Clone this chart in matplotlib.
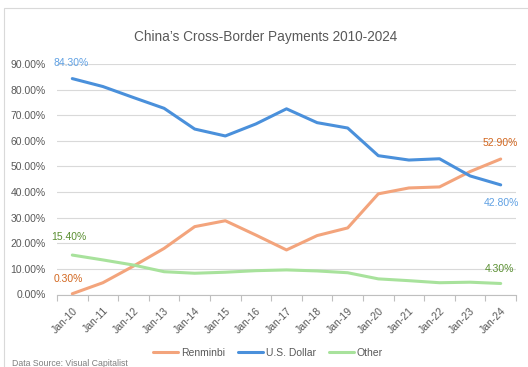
import matplotlib.pyplot as plt
from matplotlib.patches import Rectangle
from matplotlib.ticker import FuncFormatter

# Data (share of cross-border payments, %)
dates = ["Jan-10", "Jan-11", "Jan-12", "Jan-13", "Jan-14", "Jan-15", "Jan-16", "Jan-17",
         "Jan-18", "Jan-19", "Jan-20", "Jan-21", "Jan-22", "Jan-23", "Jan-24"]
renminbi = [0.3, 4.6, 11.1, 18.0, 26.5, 28.8, 23.2, 17.4, 23.0, 26.0, 39.3, 41.6, 42.0, 48.0, 52.9]
usd = [84.3, 81.2, 76.9, 72.7, 64.6, 61.9, 66.6, 72.5, 67.1, 65.0, 54.2, 52.5, 53.0, 46.3, 42.8]
other = [15.4, 13.5, 11.5, 8.9, 8.3, 8.7, 9.3, 9.6, 9.2, 8.5, 6.1, 5.4, 4.6, 4.8, 4.3]

plt.rcParams['font.family'] = ['Liberation Sans', 'DejaVu Sans']

fig = plt.figure(figsize=(5.28, 3.67), dpi=100)
ax = fig.add_axes([57 / 528, 1 - 294.5 / 367, 459 / 528, 230.5 / 367])

x = list(range(len(dates)))
ax.plot(x, renminbi, color='#F3A47C', lw=2.2, label='Renminbi', solid_capstyle='round')
ax.plot(x, usd, color='#4A90DB', lw=2.2, label='U.S. Dollar', solid_capstyle='round')
ax.plot(x, other, color='#A8E29C', lw=2.2, label='Other', solid_capstyle='round')

# Axis formatting
ax.set_xlim(-0.5, len(dates) - 0.5)
ax.set_ylim(0, 90)
ax.set_yticks(range(0, 91, 10))
ax.yaxis.set_major_formatter(FuncFormatter(lambda v, p: f"{v:.2f}%"))
ax.set_xticks(x)
ax.set_xticklabels(dates, rotation=45, ha='right', va='top', rotation_mode='anchor')
ax.set_xticks([i - 0.5 for i in range(len(dates) + 1)], minor=True)
ax.tick_params(axis='x', which='major', length=0, pad=8, labelsize=7.5, labelcolor='#595959')
ax.tick_params(axis='x', which='minor', length=4, color='#BFBFBF', width=0.8)
ax.tick_params(axis='y', length=0, pad=8, labelsize=7.5, labelcolor='#595959')
ax.grid(axis='y', color='#D9D9D9', lw=0.8)
ax.set_axisbelow(True)
for side in ['top', 'right', 'left']:
    ax.spines[side].set_visible(False)
ax.spines['bottom'].set_color('#BFBFBF')
ax.spines['bottom'].set_linewidth(0.8)

# Data labels at both ends
ax.annotate(f"{usd[0]:.2f}%", (0, usd[0]), xytext=(-1, 16), textcoords='offset pixels',
            ha='center', va='center', fontsize=7.5, color='#5FA0E3')
ax.annotate(f"{renminbi[0]:.2f}%", (0, renminbi[0]), xytext=(-4, 15), textcoords='offset pixels',
            ha='center', va='center', fontsize=7.5, color='#D2661E')
ax.annotate(f"{other[0]:.2f}%", (0, other[0]), xytext=(-3, 18), textcoords='offset pixels',
            ha='center', va='center', fontsize=7.5, color='#5A8F31')
ax.annotate(f"{renminbi[-1]:.2f}%", (14, renminbi[-1]), xytext=(0, 16), textcoords='offset pixels',
            ha='center', va='center', fontsize=7.5, color='#D2661E')
ax.annotate(f"{usd[-1]:.2f}%", (14, usd[-1]), xytext=(1, -18), textcoords='offset pixels',
            ha='center', va='center', fontsize=7.5, color='#5FA0E3')
ax.annotate(f"{other[-1]:.2f}%", (14, other[-1]), xytext=(-1, 14), textcoords='offset pixels',
            ha='center', va='center', fontsize=7.5, color='#5A8F31')

# Title, legend, source
fig.text(266 / 528, 1 - 37 / 367, "China\u2019s Cross-Border Payments 2010-2024",
         ha='center', va='center', fontsize=9.8, color='#595959')
fig.legend(loc='center', bbox_to_anchor=(268 / 528, 1 - 353 / 367), ncol=3, frameon=False,
           fontsize=7.5, labelcolor='#595959', handlelength=2.4, handletextpad=0.3,
           columnspacing=1.2)
fig.text(12 / 528, 1 - 363 / 367, "Data Source: Visual Capitalist",
         ha='left', va='center', fontsize=6.3, color='#7F7F7F')

# Chart area border
fig.patches.append(Rectangle((4 / 528, -0.1), 1.2, 1.1 - 8 / 367, fill=False,
                             edgecolor='#D9D9D9', lw=0.8, transform=fig.transFigure))

fig.savefig('out.png', dpi=100)
